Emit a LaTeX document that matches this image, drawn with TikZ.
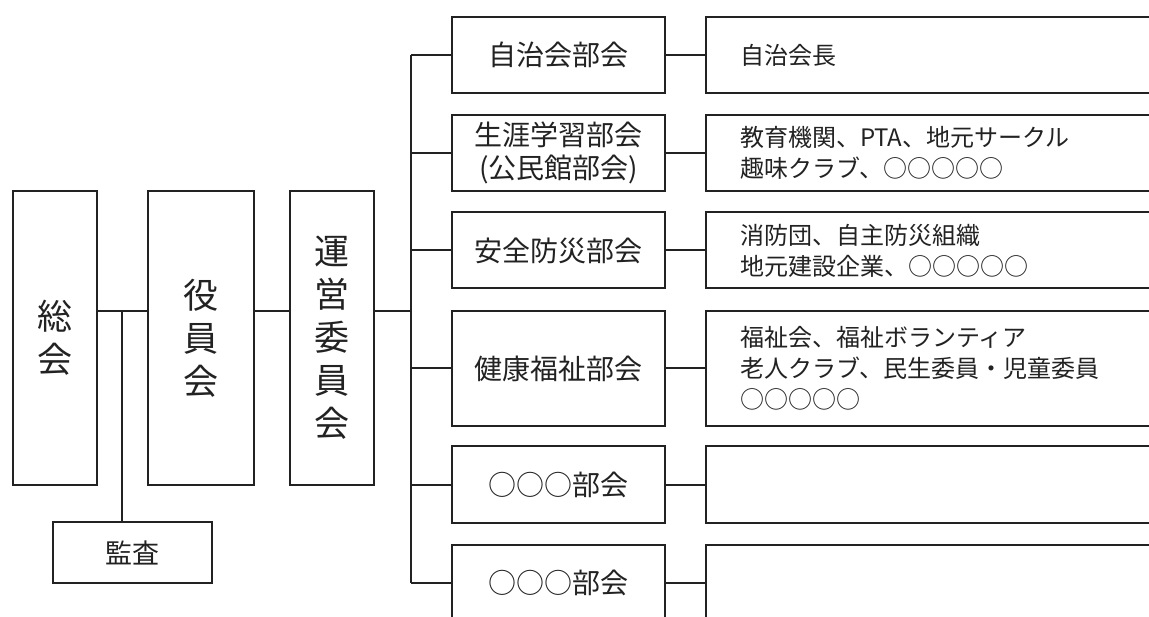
\documentclass[tikz,border=0pt]{standalone}
\usepackage{fontspec}
\newfontfamily\jp{Noto Sans CJK JP}
\definecolor{ink}{HTML}{222222}
\begin{document}
\begin{tikzpicture}[x=1pt,y=-1pt,
  box/.style={draw=ink,line width=2pt,text=ink,inner sep=0pt,align=center},
  bigbox/.style={box,minimum width=84pt,minimum height=294pt,font=\jp\fontsize{35}{43}\selectfont},
  midbox/.style={box,minimum width=213pt,minimum height=76pt,font=\jp\fontsize{28}{33}\selectfont},
  wide/.style={draw=ink,line width=2pt,text=ink,inner ysep=0pt,inner xsep=34pt,
     text width=386pt,align=left,minimum height=76pt,font=\jp\fontsize{24}{31}\selectfont},
  con/.style={draw=ink,line width=2pt}]
\useasboundingbox (0,0) rectangle (1149,617);
\clip (0,0) rectangle (1149,617);
\fill[white] (0,0) rectangle (1149,617);

% left column
\node[bigbox] (soukai) at (54.5,338) {総\\会};
\node[bigbox,minimum width=106pt] (yakuin) at (201,338) {役\\員\\会};
\node[bigbox] (unei) at (332,338) {運\\営\\委\\員\\会};
\node[box,minimum width=159pt,minimum height=61pt,font=\jp\fontsize{27}{32}\selectfont] (kansa) at (132.5,552.5) {監査};

\coordinate (j1) at (122,311);
\coordinate (t) at (411,311);
\draw[con] ([yshift=27pt]soukai.east) -- ([yshift=27pt]yakuin.west);
\draw[con] (j1) -- (j1 |- kansa.north);
\draw[con] ([yshift=27pt]yakuin.east) -- ([yshift=27pt]unei.west);
\draw[con] ([yshift=27pt]unei.east) -- (t);

% middle column
\node[midbox] (b1) at (558.5,55) {自治会部会};
\node[midbox] (b2) at (558.5,153) {生涯学習部会\\(公民館部会)};
\node[midbox] (b3) at (558.5,250.5) {安全防災部会};
\node[midbox,minimum height=115pt] (b4) at (558.5,368.5) {健康福祉部会};
\node[midbox] (b5) at (558.5,484.5) {○○○部会};
\node[midbox] (b6) at (558.5,583) {○○○部会};

% right column
\node[wide] (c1) at (933,55) {自治会長};
\node[wide] (c2) at (933,153) {教育機関、PTA、地元サークル\\趣味クラブ、○○○○○};
\node[wide] (c3) at (933,250.5) {消防団、自主防災組織\\地元建設企業、○○○○○};
\node[wide,minimum height=115pt] (c4) at (933,368.5) {福祉会、福祉ボランティア\\老人クラブ、民生委員・児童委員\\○○○○○};
\node[wide] (c5) at (933,484.5) {};
\node[wide] (c6) at (933,583) {};

% trunk and branches
\draw[con] (t |- b1) -- (t |- b6);
\foreach \i in {1,...,6} {
  \draw[con] (t |- b\i) -- (b\i.west);
  \draw[con] (b\i.east) -- (c\i.west);
}
\end{tikzpicture}
\end{document}
